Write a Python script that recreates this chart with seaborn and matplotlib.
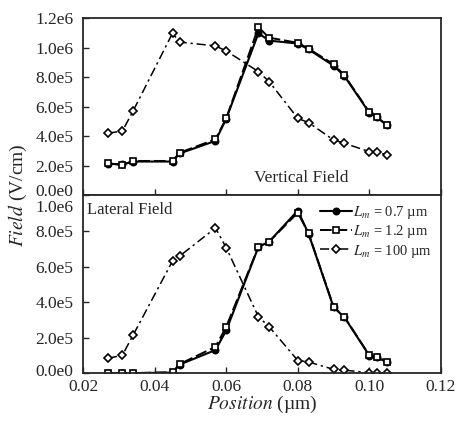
import numpy as np
import pandas as pd
import matplotlib
matplotlib.use("Agg")
import matplotlib.pyplot as plt
import matplotlib.transforms as mtransforms
import seaborn as sns

# positions (um) shared by every curve
position = [0.027, 0.031, 0.034, 0.045, 0.047, 0.057, 0.060, 0.069,
            0.072, 0.080, 0.083, 0.090, 0.093, 0.100, 0.102, 0.105]

# vertical field (V/cm)
vert_07 = [2.15e5, 2.10e5, 2.30e5, 2.30e5, 2.85e5, 3.70e5, 5.20e5, 1.10e6,
           1.05e6, 1.03e6, 0.99e6, 8.8e5, 8.1e5, 5.6e5, 5.3e5, 4.75e5]
vert_12 = [2.18e5, 2.07e5, 2.34e5, 2.34e5, 2.90e5, 3.81e5, 5.23e5, 1.14e6,
           1.07e6, 1.035e6, 0.995e6, 8.9e5, 8.15e5, 5.65e5, 5.34e5, 4.75e5]
vert_100 = [4.22e5, 4.37e5, 5.73e5, 1.10e6, 1.04e6, 1.014e6, 0.98e6, 8.4e5,
            7.72e5, 5.23e5, 4.94e5, 3.76e5, 3.54e5, 2.97e5, 2.93e5, 2.75e5]

# lateral field (V/cm)
lat_07 = [0, 0, 0, 3e3, 4.8e4, 1.30e5, 2.40e5, 7.10e5,
          7.40e5, 9.15e5, 7.85e5, 3.70e5, 3.15e5, 9.8e4, 9.0e4, 6.0e4]
lat_12 = [0, 0, 0, 5e3, 5.1e4, 1.48e5, 2.60e5, 7.12e5,
          7.40e5, 9.03e5, 7.87e5, 3.74e5, 3.17e5, 1.0e5, 9.2e4, 6.5e4]
lat_100 = [8.3e4, 1.01e5, 2.14e5, 6.31e5, 6.59e5, 8.17e5, 7.06e5, 3.17e5,
           2.61e5, 7.1e4, 6.3e4, 2.1e4, 1.7e4, 2e3, 2e3, 2e3]

series_labels = [r"$L_m$ = 0.7 µm", r"$L_m$ = 1.2 µm", r"$L_m$ = 100 µm"]

x_ticks = [0.02, 0.04, 0.06, 0.08, 0.10, 0.12]
x_ticklabels = ["0.02", "0.04", "0.06", "0.08", "0.10", "0.12"]
top_yticks = [0, 2e5, 4e5, 6e5, 8e5, 1.0e6, 1.2e6]
top_yticklabels = ["0.0e0", "2.0e5", "4.0e5", "6.0e5", "8.0e5", "1.0e6", "1.2e6"]
bot_yticks = [0, 2e5, 4e5, 6e5, 8e5, 1.0e6]
bot_yticklabels = ["0.0e0", "2.0e5", "4.0e5", "6.0e5", "8.0e5", "1.0e6"]

sns.set_theme(style="ticks")
plt.rcParams["font.family"] = ["Liberation Serif", "DejaVu Serif"]
plt.rcParams["mathtext.fontset"] = "stix"
plt.rcParams["axes.linewidth"] = 1.3

styles = [
    dict(marker="o", markersize=4.5, markerfacecolor="black", dashes=None, lw=1.5),
    dict(marker="s", markersize=5, markerfacecolor="white", dashes=(6, 2), lw=1.4),
    dict(marker="D", markersize=4, markerfacecolor="white", dashes=(6, 2.5, 1.5, 2.5), lw=1.1),
]

fig = plt.figure(figsize=(4.7, 4.24), dpi=100)
ax_top = fig.add_axes([0.1766, 0.539, 0.7617, 0.4174])
ax_bot = fig.add_axes([0.1766, 0.120, 0.7617, 0.419])


def draw(ax, curves):
    for vals, lab, st in zip(curves, series_labels, styles):
        df = pd.DataFrame({"pos": position, "field": vals})
        sns.lineplot(data=df, x="pos", y="field", ax=ax, color="black",
                     marker=st["marker"], markersize=st["markersize"],
                     markerfacecolor=st["markerfacecolor"],
                     markeredgecolor="black", markeredgewidth=1.2,
                     linewidth=st["lw"], label=lab)
        if st["dashes"] is not None:
            ax.get_lines()[-1].set_dashes(st["dashes"])
    ax.set_xlim(0.02, 0.12)
    ax.set_xticks(x_ticks)
    ax.tick_params(axis="y", direction="in", length=4, width=1, labelsize=12.5, pad=7)
    ax.tick_params(axis="x", direction="in", length=4, width=1, labelsize=12.5, pad=4)
    ax.set_xlabel("")
    ax.set_ylabel("")


draw(ax_top, [vert_07, vert_12, vert_100])
draw(ax_bot, [lat_07, lat_12, lat_100])

ax_top.set_ylim(0, 1.2e6)
ax_top.set_yticks(top_yticks)
ax_top.set_yticklabels(top_yticklabels)
ax_top.set_xticklabels([])
ax_top.get_legend().remove()

ax_bot.set_ylim(0, 1.0e6)
ax_bot.set_yticks(bot_yticks)
ax_bot.set_yticklabels(bot_yticklabels)
ax_bot.set_xticklabels(x_ticklabels)

# nudge the labels that would collide at the panel seam
lbl = ax_top.get_yticklabels()[0]
lbl.set_transform(lbl.get_transform() + mtransforms.ScaledTranslation(0, 5 / 100, fig.dpi_scale_trans))
lbl = ax_bot.get_yticklabels()[-1]
lbl.set_transform(lbl.get_transform() + mtransforms.ScaledTranslation(0, -11 / 100, fig.dpi_scale_trans))
lbl = ax_bot.get_yticklabels()[0]
lbl.set_transform(lbl.get_transform() + mtransforms.ScaledTranslation(0, 3 / 100, fig.dpi_scale_trans))

ax_top.text(0.61, 0.1, "Vertical Field", transform=ax_top.transAxes,
            ha="center", va="center", fontsize=12.5)
ax_bot.text(0.01, 0.92, "Lateral Field", transform=ax_bot.transAxes,
            ha="left", va="center", fontsize=12)

ax_bot.legend(loc="upper right", frameon=False, fontsize=10.5,
              handlelength=2.2, handletextpad=0.1, labelspacing=0.15,
              borderaxespad=0.2)

fig.text(0.038, 0.54, r"$\mathit{Field}$ (V/cm)", rotation=90,
         ha="center", va="center", fontsize=14)
fig.text(0.557, 0.045, r"$\mathit{Position}$ (µm)", ha="center", va="center", fontsize=14)

fig.savefig("out.png", dpi=100)
